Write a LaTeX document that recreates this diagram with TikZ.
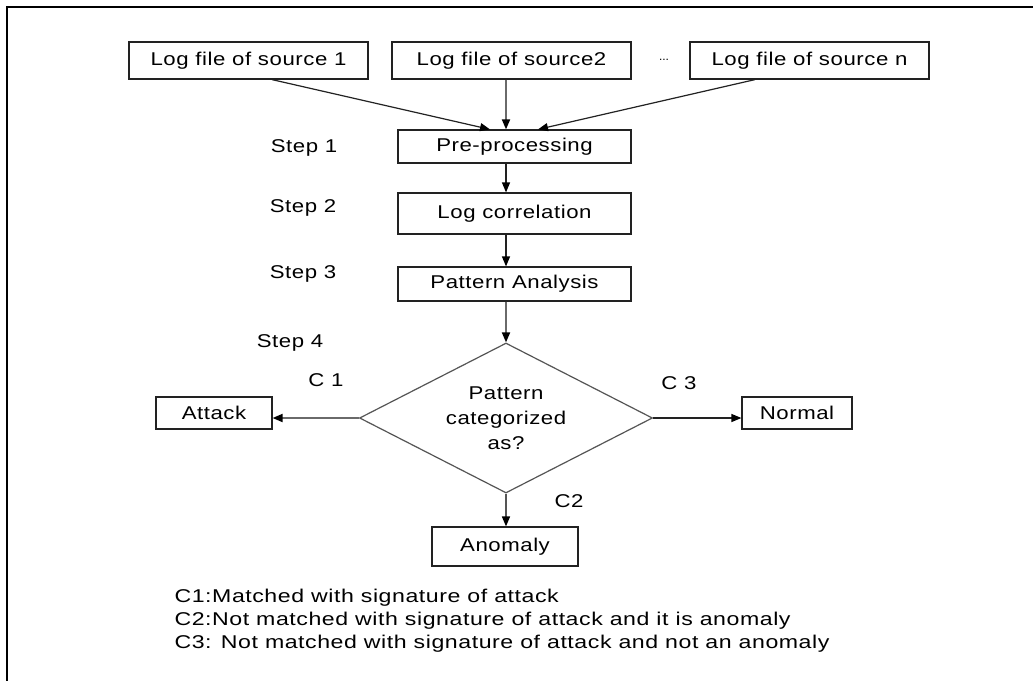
\documentclass[tikz,border=0pt]{standalone}
\usepackage{fontspec}
\setmainfont{Liberation Sans}
\newfontfamily\lblfont{Liberation Sans}[FakeStretch=1.2,LetterSpace=3]
\newfontfamily\notefont{Liberation Sans}[FakeStretch=1.25,LetterSpace=3]
\usetikzlibrary{shapes.geometric,arrows.meta,calc}
\definecolor{edgecol}{HTML}{222222}
\definecolor{greyline}{HTML}{6A6A6A}
\definecolor{diagedge}{HTML}{555555}
\begin{document}
\begin{tikzpicture}[x=1pt,y=-1pt,
  font=\lblfont\fontsize{18.5}{25}\selectfont,
  procbox/.style={draw=edgecol, line width=1.2pt, inner sep=0pt},
  arr/.style={-{Triangle[length=10pt,width=8pt,color=black]}, line width=1.2pt, draw=edgecol},
  greyarr/.style={arr, draw=greyline, line width=1.8pt},
  notetext/.style={anchor=west, font=\notefont\fontsize{18.5}{20}\selectfont}]
\useasboundingbox (0,0) rectangle (1033,680);
\fill[white] (0,0) rectangle (1033,680);
% open frame: top and left rules only
\draw[line width=2pt, black] (7,690) -- (7,7) -- (1040,7);

% log sources
\node[procbox, minimum width=239pt, minimum height=37pt] (src1) at (248.5,60.5) {Log file of source 1};
\node[procbox, minimum width=239pt, minimum height=37pt] (src2) at (511.5,60.5) {Log file of source2};
\node[font=\fontsize{12}{12}\selectfont] (dots) at (664,60) {...};
\node[procbox, minimum width=239pt, minimum height=37pt] (srcn) at (809.5,60.5) {Log file of source n};

% processing chain
\node[procbox, minimum width=233pt, minimum height=33pt] (pre) at (514.5,146.5) {Pre-processing};
\node[procbox, minimum width=233pt, minimum height=41pt] (corr) at (514.5,213.5) {Log correlation};
\node[procbox, minimum width=233pt, minimum height=34pt] (pat) at (514.5,284) {Pattern Analysis};
\node[diamond, draw=diagedge, line width=1.2pt, aspect=1.95, inner sep=0pt,
      minimum width=293pt, minimum height=150pt, align=center] (dia) at (506,418)
      {Pattern\\categorized\\as?};

% outcomes
\node[procbox, minimum width=116pt, minimum height=32pt] (att) at (214,413) {Attack};
\node[procbox, minimum width=110pt, minimum height=32pt] (nor) at (797,413) {Normal};
\node[procbox, minimum width=146pt, minimum height=39pt] (anom) at (505,546.5) {Anomaly};

% step and condition labels
\node (st1) at (304,148) {Step 1};
\node (st2) at (303,208) {Step 2};
\node (st3) at (303,274) {Step 3};
\node (st4) at (290,343) {Step 4};
\node (c1) at (326,380) {C 1};
\node (c3) at (679,383) {C 3};
\node (c2) at (569,501) {C2};

% connectors
\draw[arr] ($(src1.south)+(23.5,0)$) -- ($(pre.north)+(-24.5,0)$);
\draw[greyarr] (src2.south -| dia.north) -- (pre.north -| dia.north);
\draw[arr] ($(srcn.south)+(-54.5,0)$) -- ($(pre.north)+(23.5,0)$);
\draw[arr] (pre.south -| dia.north) -- (corr.north -| dia.north);
\draw[arr] (corr.south -| dia.north) -- (pat.north -| dia.north);
\draw[greyarr] (pat.south -| dia.north) -- (dia.north);
\draw[greyarr] (dia.west) -- (dia.west -| att.east);
\draw[arr] (dia.east) -- (dia.east -| nor.west);
\draw[arr, draw=diagedge, line width=1.6pt] (dia.south) -- (anom.north -| dia.south);

% legend
\node[notetext] (n1) at (171,598) {C1:Matched with signature of attack};
\node[notetext] (n2) at (171,621) {C2:Not matched with signature of attack and it is anomaly};
\node[notetext] (n3) at (171,644) {C3: Not matched with signature of attack and not an anomaly};
\end{tikzpicture}
\end{document}
